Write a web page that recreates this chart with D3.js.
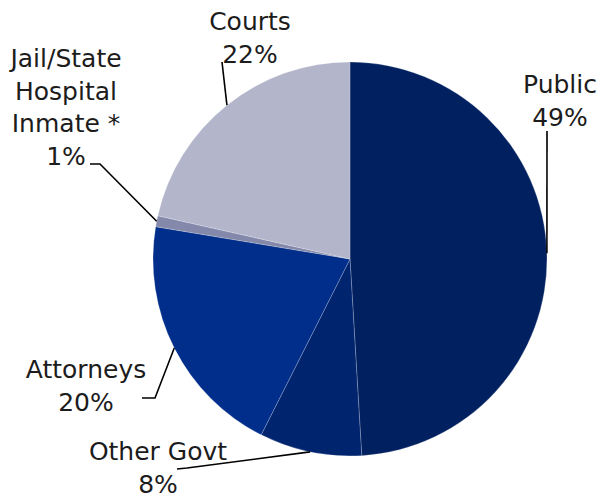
<!DOCTYPE html>
<html>
<head>
<meta charset="utf-8">
<script src="https://cdn.jsdelivr.net/npm/d3@7/dist/d3.min.js"></script>
<style>
	body { margin: 0; background: #fff; }
	svg { display: block; }
	text { font-family: "DejaVu Sans", sans-serif; font-size: 25px; fill: #1c1c1c; }
</style>
</head>
<body>
<div class="container"></div>
<script>

	// slice data, clockwise from 12 o'clock
	var categories = ["Public", "Other Govt", "Attorneys", "Jail/State Hospital Inmate *", "Courts"];
	var labelLines = [["Public"], ["Other Govt"], ["Attorneys"], ["Jail/State", "Hospital", "Inmate *"], ["Courts"]];
	var shares = [49.1, 8.4, 20.2, 0.9, 21.5];
	var colors = ["#002060", "#01246f", "#002e8a", "#8489ab", "#b3b6cb"];

	var width = 601, height = 497;
	var cx = 350, cy = 259, radius = 197;
	var lineH = 32.5;

	// where each label sits and how its leader line bends
	var labelLayout = {
		"Public": { x: 560, y: 93, path: [[547, 131]] },
		"Other Govt": { x: 158, y: 460, path: [[187, 468], [177, 469]] },
		"Attorneys": { x: 86, y: 378, path: [[155, 398], [142, 398]] },
		"Jail/State Hospital Inmate *": { x: 66, y: 67, path: [[100, 164], [90, 164]] },
		"Courts": { x: 250, y: 30, path: [[222, 62]] }
	};

	var data = categories.map(function(c, i){
		return { name: c, value: shares[i], lines: labelLines[i], color: colors[i] };
	});

	var pie = d3.pie().sort(null).value(function(d){ return d.value; });
	var arcs = pie(data);

	var arc = d3.arc().innerRadius(0).outerRadius(radius);
	var edge = d3.arc().innerRadius(radius).outerRadius(radius);

	var svg = d3.select('.container').append('svg')
				.attr('width', width)
				.attr('height', height);

	var g = svg.append('g').attr('transform', 'translate(' + cx + ',' + cy + ')');

	g.selectAll('path.slice')
		.data(arcs)
		.enter()
		.append('path')
		.attr('class', 'slice')
		.attr('d', arc)
		.attr('fill', function(d){ return d.data.color; })
		.attr('stroke', '#ffffff')
		.attr('stroke-opacity', 0.3)
		.attr('stroke-width', 0.7);

	// leader lines
	svg.selectAll('path.leader')
		.data(arcs)
		.enter()
		.append('path')
		.attr('class', 'leader')
		.attr('fill', 'none')
		.attr('stroke', '#000')
		.attr('stroke-width', 1.6)
		.attr('d', function(d){
			var c = edge.centroid(d);
			var pts = [[c[0] + cx, c[1] + cy]].concat(labelLayout[d.data.name].path);
			return d3.line()(pts);
		});

	// labels
	var labels = svg.selectAll('text.label')
		.data(arcs)
		.enter()
		.append('text')
		.attr('class', 'label')
		.attr('text-anchor', 'middle');

	labels.each(function(d){
		var t = d3.select(this);
		var lay = labelLayout[d.data.name];
		var lines = d.data.lines.concat([Math.round(d.data.value) + '%']);
		lines.forEach(function(l, i){
			t.append('tspan')
				.attr('x', lay.x)
				.attr('y', lay.y + i * lineH)
				.text(l);
		});
	});

</script>
</body>
</html>
